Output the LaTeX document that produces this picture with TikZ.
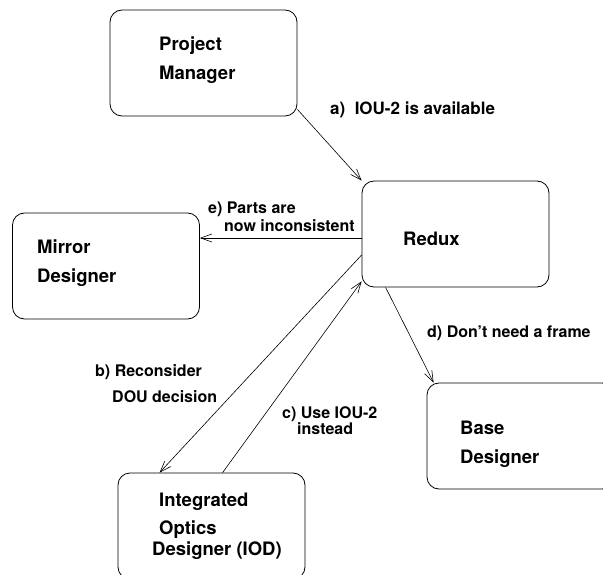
\documentclass[tikz,border=0pt]{standalone}
\usepackage{fontspec}
\setmainfont{TeX Gyre Heros}
\usetikzlibrary{arrows.meta}

\tikzset{
  agent/.style={draw, rounded corners=12pt, line width=0.8pt,
    minimum width=187pt, minimum height=106pt, inner sep=0pt},
  agentname/.style={anchor=base west, align=left, inner sep=0pt,
    font=\fontsize{18.5pt}{29pt}\selectfont\bfseries},
  msg/.style={-{Straight Barb[length=11pt,width=8pt]}, line width=0.6pt},
  msglabel/.style={anchor=base west, align=left, inner sep=0pt,
    font=\fontsize{16pt}{18pt}\selectfont\bfseries},
}

\begin{document}
\begin{tikzpicture}[x=1pt,y=-1pt]
  \useasboundingbox (0,0) rectangle (603,575);
  % the parties
  \node[agent] (pm) at (203.5,63) {};
  \node[agent] (redux) at (455.5,234) {};
  \node[agent] (mirror) at (106,266) {};
  \node[agent] (base) at (520.5,436) {};
  \node[agent] (iod) at (211.5,526) {};

  % names, placed at the baseline of their last line
  \node[agentname] (pmname) at (159,80) {Project\\Manager};
  \node[agentname] (reduxname) at (403,246) {Redux};
  \node[agentname] (mirrorname) at (37,283) {Mirror\\Designer};
  \node[agentname] (basename) at (460,463) {Base\\Designer};
  \node[agentname] (iodname) at (152,555)
    {\hspace*{7pt}Integrated\\[-1pt]\hspace*{7pt}Optics\\[-8pt]Designer (IOD)};

  % messages
  \draw[msg] ([yshift=7pt]pm.south east) -- (redux.north west);
  \draw[msg] ([yshift=-4pt]redux.west) -- ([yshift=-4pt]redux.west -| mirror.east);
  \draw[msg] ([yshift=-21pt]redux.west) -- ([xshift=42pt]iod.north west);
  \draw[msg] ([xshift=105pt]iod.north west) -- ([yshift=6pt]redux.south west);
  \draw[msg] ([xshift=24pt]redux.south west) -- ([xshift=7pt]base.north west);

  \node[msglabel, font=\fontsize{17pt}{18pt}\selectfont\bfseries] (alabel) at (330,115) {a)\ \ IOU-2 is available};
  \node[msglabel] (elabel) at (208,232) {e) Parts are\\\hspace*{16pt}now inconsistent};
  \node[msglabel] (blabel) at (95,402) {b) Reconsider\\[8pt]\hspace*{17pt}DOU decision};
  \node[msglabel] (clabel) at (282,434) {c) Use IOU-2\\[-2pt]\hspace*{15pt}instead};
  \node[msglabel] (dlabel) at (427,337) {d) Don't need a frame};
\end{tikzpicture}
\end{document}
